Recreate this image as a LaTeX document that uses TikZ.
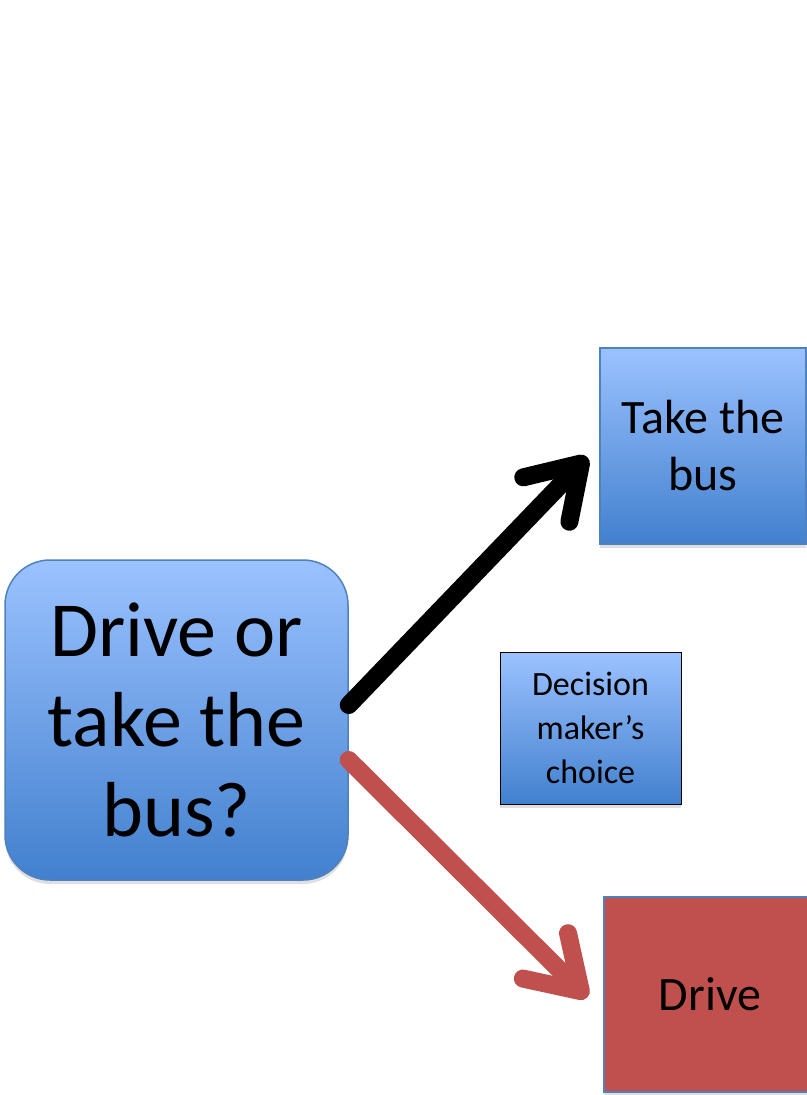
\documentclass[tikz,border=0pt]{standalone}
\usepackage{fontspec}
\setmainfont{Carlito}
\usetikzlibrary{positioning,arrows.meta,shadows}
\definecolor{boxtop}{RGB}{155,194,255}
\definecolor{boxbot}{RGB}{66,128,206}
\definecolor{boxline}{RGB}{79,129,189}
\definecolor{drivered}{RGB}{192,80,77}
\tikzset{block/.style={draw=boxline,line width=1.5pt,top color=boxtop,bottom color=boxbot,align=center,
           drop shadow={opacity=0.25,shadow xshift=0pt,shadow yshift=-4pt}},
         line/.style={line width=18pt,line cap=round,-{Straight Barb[length=50pt,width=64pt,line cap=round,round]}}
}

\begin{document}
\begin{tikzpicture}[x=1pt,y=-1pt]
  \useasboundingbox[fill=white] (0,0) rectangle (806,1095);
  \node[block, rounded corners=45pt, minimum width=343pt, minimum height=320pt,
        font=\fontsize{78}{90}\selectfont] (q) at (176.5,720) {Drive or\\take the\\bus?};
  \node[block, minimum width=206pt, minimum height=196pt,
        font=\fontsize{48}{57}\selectfont] (bus) at (703,446) {Take the\\bus};
  \node[block, draw=black, line width=1pt, minimum width=181pt, minimum height=152pt,
        font=\fontsize{34}{44}\selectfont] (dm) at (590.5,728) {Decision\\maker’s\\choice};
  \node[block, fill=drivered, top color=drivered, bottom color=drivered, minimum width=212pt, minimum height=195pt,
        font=\fontsize{48}{57}\selectfont] (drive) at (710,994.5) {Drive};

  \draw[line, black] ([yshift=15pt]q.east) -- ([xshift=-12pt,yshift=-11pt]bus.west);
  \draw[line, drivered] ([yshift=-40pt]q.east) -- ([xshift=-16pt,yshift=-3pt]drive.west);
\end{tikzpicture}
\end{document}
